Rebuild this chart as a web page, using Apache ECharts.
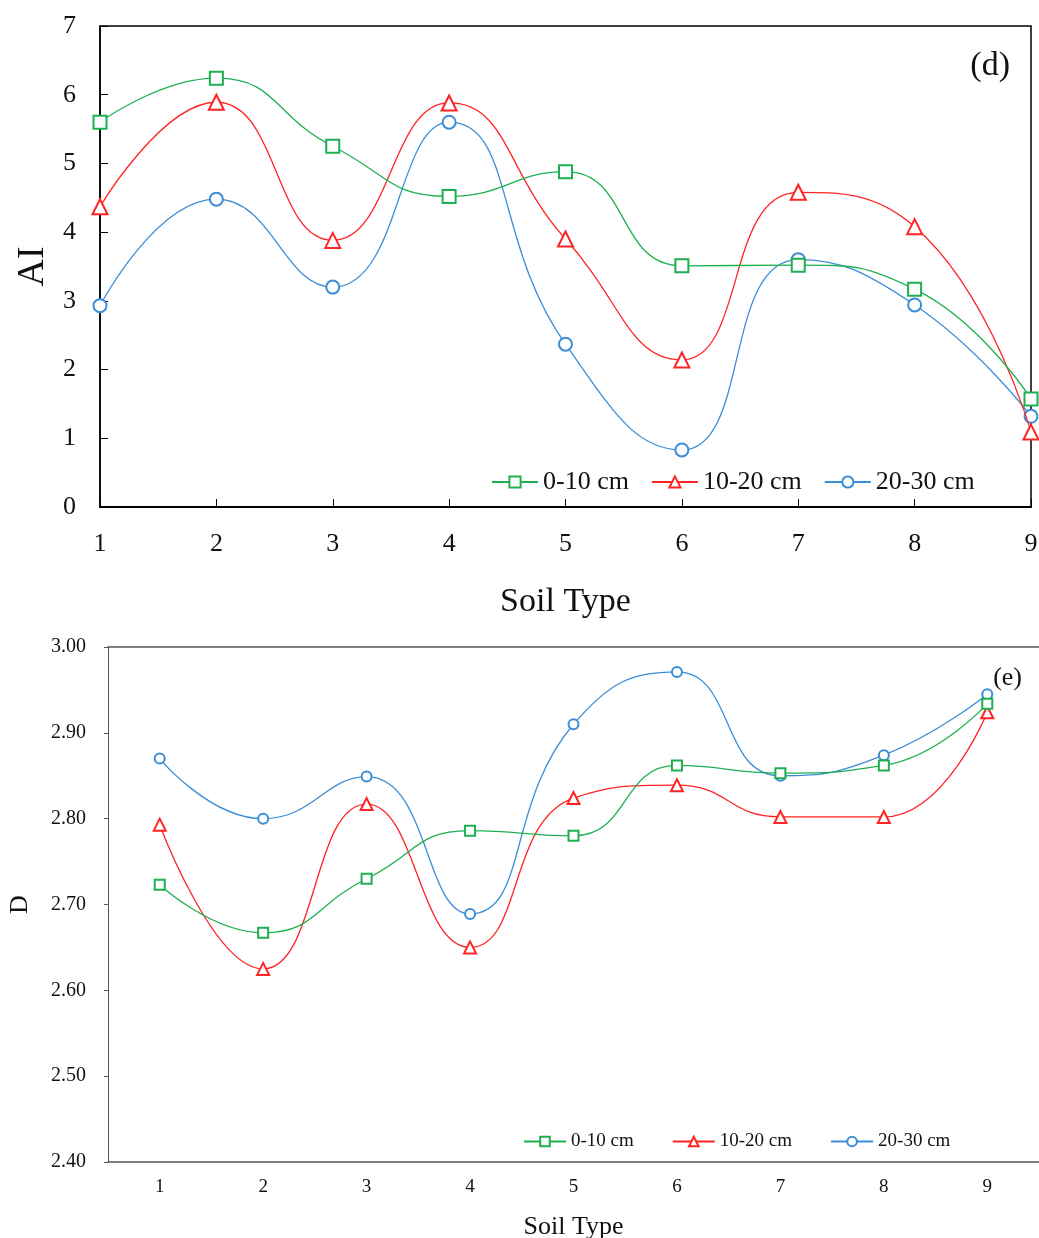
<!DOCTYPE html>
<html>
<head>
<meta charset="utf-8">
<script src="https://cdn.jsdelivr.net/npm/echarts@6/dist/echarts.min.js"></script>
<style>
	html,body{margin:0;padding:0;background:#fff;}
	#main{width:1039px;height:1238px;}
</style>
</head>
<body>
<div id="main"></div>
<script>
// soil types 1..9
const soilTypes = ['1','2','3','4','5','6','7','8','9']
const depthNames = ['0-10 cm','10-20 cm','20-30 cm']

// (d) AI
const ai_0_10 = [5.60, 6.24, 5.25, 4.52, 4.88, 3.51, 3.52, 3.17, 1.57]
const ai_10_20 = [4.37, 5.89, 3.88, 5.88, 3.90, 2.14, 4.58, 4.08, 1.09]
const ai_20_30 = [2.93, 4.48, 3.20, 5.60, 2.37, 0.83, 3.60, 2.94, 1.32]

// (e) D
const d_0_10 = [2.723, 2.667, 2.730, 2.786, 2.780, 2.862, 2.853, 2.862, 2.934]
const d_10_20 = [2.793, 2.625, 2.817, 2.650, 2.824, 2.839, 2.802, 2.802, 2.924]
const d_20_30 = [2.870, 2.800, 2.849, 2.689, 2.910, 2.971, 2.850, 2.874, 2.945]

const colors = ['#1eb050', '#ff2424', '#3b8ed6']
const symbols = ['emptyRect', 'emptyTriangle', 'emptyCircle']
const serif = '"Liberation Serif", "DejaVu Serif", serif'

let chart = echarts.init(document.getElementById('main'))

function pairs(arr){
	// x value = soil type number for the top value axis
	return arr.map((v, i) => [Number(soilTypes[i]), v])
}

let series = []
;[ai_0_10, ai_10_20, ai_20_30].forEach((arr, i) => {
	series.push({
		name: depthNames[i], type: 'line', xAxisIndex: 0, yAxisIndex: 0,
		data: pairs(arr), smooth: 0.5,
		symbol: symbols[i], symbolSize: i == 1 ? 15 : 13,
		lineStyle: {color: colors[i], width: 1.3},
		itemStyle: {color: colors[i], borderWidth: 1.5},
		z: 3 - i
	})
})
;[d_0_10, d_10_20, d_20_30].forEach((arr, i) => {
	series.push({
		name: depthNames[i], type: 'line', xAxisIndex: 1, yAxisIndex: 1,
		data: arr, smooth: 0.5,
		symbol: symbols[i], symbolSize: i == 1 ? 12 : 10,
		lineStyle: {color: colors[i], width: 1.3},
		itemStyle: {color: colors[i], borderWidth: 1.3},
		z: 3 - i
	})
})

let option = {
	backgroundColor: '#fff',
	animation: false,
	title: [
		{text: '(d)', right: 24, top: 44, textStyle: {fontFamily: serif, fontSize: 34, fontWeight: 'normal', color: '#111'}},
		{text: '(e)', right: 12, top: 660, textStyle: {fontFamily: serif, fontSize: 26, fontWeight: 'normal', color: '#111'}}
	],
	legend: [
		{
			data: depthNames, left: 486, top: 464, itemWidth: 46, itemHeight: 14, itemGap: 22,
			textStyle: {fontFamily: serif, fontSize: 26, color: '#111'}
		},
		{
			data: depthNames, left: 518, top: 1127, itemWidth: 42, itemHeight: 12, itemGap: 38,
			textStyle: {fontFamily: serif, fontSize: 19, color: '#111'}
		}
	],
	grid: [
		{left: 100, top: 26, width: 931, height: 481, show: true, borderColor: '#000', borderWidth: 1.5,
			containLabel: false, outerBoundsMode: 'none'},
		{left: 108, top: 647, width: 931, height: 515, containLabel: false, outerBoundsMode: 'none'}
	],
	xAxis: [
		{
			gridIndex: 0, type: 'value', min: 1, max: 9, interval: 1,
			name: 'Soil Type', nameLocation: 'middle', nameGap: 78,
			nameTextStyle: {fontFamily: serif, fontSize: 34, color: '#111'},
			axisLine: {lineStyle: {color: '#000', width: 2}},
			axisTick: {inside: true, length: 8, lineStyle: {color: '#000'}},
			axisLabel: {fontFamily: serif, fontSize: 26, color: '#111', margin: 24},
			splitLine: {show: false}
		},
		{
			gridIndex: 1, type: 'category', data: soilTypes, boundaryGap: true,
			name: 'Soil Type', nameLocation: 'middle', nameGap: 52,
			nameTextStyle: {fontFamily: serif, fontSize: 26, color: '#111'},
			axisLine: {lineStyle: {color: '#555', width: 1.5}},
			axisTick: {inside: true, length: 7, lineStyle: {color: '#555'}},
			axisLabel: {fontFamily: serif, fontSize: 19, color: '#111', margin: 16},
			splitLine: {show: false}
		},
		{
			// top border line of the lower plot
			gridIndex: 1, type: 'category', data: soilTypes, position: 'top',
			axisLine: {show: true, lineStyle: {color: '#555', width: 1.5}},
			axisTick: {show: false}, axisLabel: {show: false}
		}
	],
	yAxis: [
		{
			gridIndex: 0, type: 'value', min: 0, max: 7, interval: 1,
			name: 'AI', nameLocation: 'middle', nameGap: 44,
			nameTextStyle: {fontFamily: serif, fontSize: 38, color: '#111'},
			axisLine: {show: true, lineStyle: {color: '#000', width: 1.5}},
			axisTick: {show: true, inside: true, length: 8, lineStyle: {color: '#000'}},
			axisLabel: {fontFamily: serif, fontSize: 26, color: '#111', margin: 24},
			splitLine: {show: false}
		},
		{
			gridIndex: 1, type: 'value', min: 2.4, max: 3.0, interval: 0.1,
			name: 'D', nameLocation: 'middle', nameGap: 75,
			nameTextStyle: {fontFamily: serif, fontSize: 26, color: '#111'},
			axisLine: {show: true, lineStyle: {color: '#555', width: 1}},
			axisTick: {show: true, length: 4, lineStyle: {color: '#555'}},
			axisLabel: {fontFamily: serif, fontSize: 20, color: '#111', margin: 22,
				formatter: v => Number(v).toFixed(2)},
			splitLine: {show: false}
		}
	],
	series: series
}

chart.setOption(option)

window.addEventListener('resize', function(){
	chart.resize()
})
</script>
</body>
</html>
